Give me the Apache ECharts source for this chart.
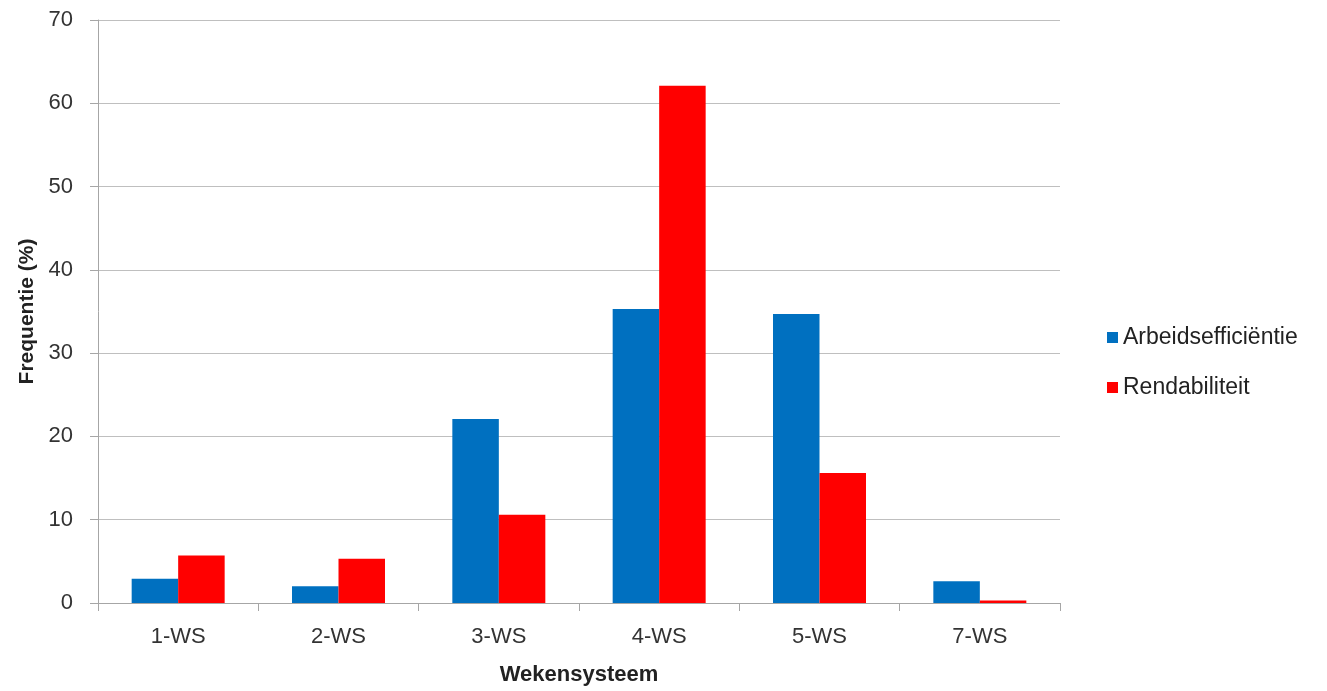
<!DOCTYPE html>
<html>
<head>
<meta charset="utf-8">
<script src="https://cdn.jsdelivr.net/npm/echarts@6/dist/echarts.min.js"></script>
<style>
html,body{margin:0;padding:0;background:#fff;}
#chart{width:1327px;height:691px;}
</style>
</head>
<body>
<div id="chart"></div>
<script>
const categories = ['1-WS', '2-WS', '3-WS', '4-WS', '5-WS', '7-WS'];
const arbeidsefficientie = [2.9, 2.0, 22.1, 35.3, 34.7, 2.6];
const rendabiliteit = [5.7, 5.3, 10.6, 62.1, 15.6, 0.3];
const seriesNames = ['Arbeidsefficiëntie', 'Rendabiliteit'];
const yTicks = [0, 10, 20, 30, 40, 50, 60, 70];

const font = 'Liberation Sans';
const chart = echarts.init(document.getElementById('chart'));
chart.setOption({
  animation: false,
  backgroundColor: '#ffffff',
  grid: { left: 98, width: 962, top: 20, height: 586, containLabel: false },
  legend: {
    orient: 'vertical',
    left: 1102,
    top: 321,
    itemWidth: 11,
    itemHeight: 11,
    itemGap: 27,
    icon: 'rect',
    textStyle: { fontFamily: font, fontSize: 23, color: '#222' },
    data: seriesNames
  },
  xAxis: {
    type: 'category',
    data: categories,
    name: 'Wekensysteem',
    nameLocation: 'middle',
    nameGap: 61,
    nameTextStyle: { fontFamily: font, fontSize: 22, fontWeight: 'bold', color: '#222' },
    axisLine: { lineStyle: { color: '#a6a6a6', width: 1 } },
    axisTick: { show: true, length: 8, lineStyle: { color: '#a6a6a6' } },
    axisLabel: { fontFamily: font, fontSize: 22, color: '#333', margin: 23 }
  },
  yAxis: {
    type: 'value',
    min: yTicks[0],
    max: yTicks[yTicks.length - 1],
    interval: 10,
    name: 'Frequentie (%)',
    nameLocation: 'middle',
    nameGap: 58,
    nameRotate: 90,
    nameTextStyle: { fontFamily: font, fontSize: 21, fontWeight: 'bold', color: '#222' },
    axisLine: { show: true, lineStyle: { color: '#a6a6a6', width: 1 } },
    axisTick: { show: true, length: 8, lineStyle: { color: '#a6a6a6' } },
    axisLabel: { fontFamily: font, fontSize: 22, color: '#333', margin: 25 },
    splitLine: { lineStyle: { color: '#bfbfbf', width: 1 } }
  },
  series: [
    {
      name: seriesNames[0],
      type: 'bar',
      data: arbeidsefficientie,
      itemStyle: { color: '#0070C0' },
      barGap: '0%',
      barCategoryGap: '42%'
    },
    {
      name: seriesNames[1],
      type: 'bar',
      data: rendabiliteit,
      itemStyle: { color: '#FF0000' },
      barGap: '0%',
      barCategoryGap: '42%'
    }
  ]
});
</script>
</body>
</html>
